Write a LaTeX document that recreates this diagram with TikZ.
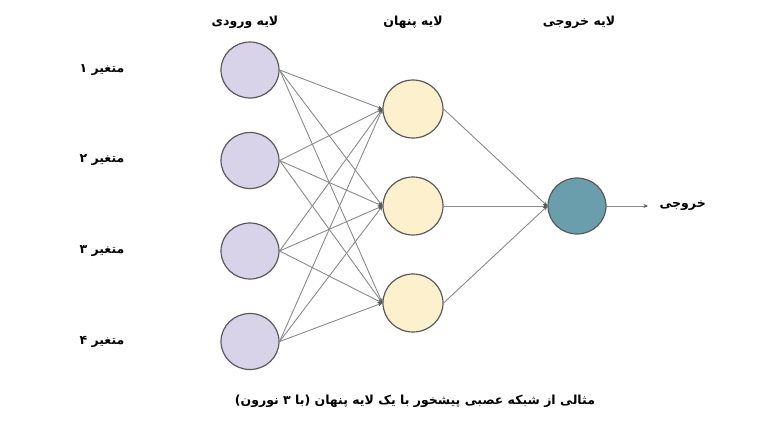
\documentclass[tikz,border=0pt]{standalone}
\usepackage{fontspec}
\TeXXeTstate=1
\newfontfamily\fafont[Script=Arabic]{DejaVu Sans}
\usetikzlibrary{arrows.meta,shapes.geometric}
\definecolor{inputfill}{HTML}{D9D3EA}
\definecolor{hiddenfill}{HTML}{FDF1CD}
\definecolor{outputfill}{HTML}{6A9EAD}
\definecolor{ringcol}{HTML}{5A5A5A}
\definecolor{linkcol}{HTML}{8A8A8A}
\tikzset{
    neuron/.style={draw=ringcol,line width=1.2pt,ellipse,inner sep=0pt},
    inputnode/.style={neuron,fill=inputfill,minimum width=58pt,minimum height=56pt},
    hiddennode/.style={neuron,fill=hiddenfill,minimum width=60pt,minimum height=58pt},
    outputnode/.style={neuron,fill=outputfill,minimum width=58pt,minimum height=56pt},
    link/.style={draw=linkcol,line width=0.9pt,-{Stealth[length=4.5pt,width=4pt,color=ringcol]}},
    label/.style={font=\fafont\bfseries\fontsize{12.5}{15}\selectfont}
}
\begin{document}
\begin{tikzpicture}[x=1pt,y=-1pt]
    \useasboundingbox (0,0) rectangle (768,432);
    % layer titles
    \node[label] (tin)  at (245,22) {\beginR لایه ورودی\endR};
    \node[label] (thid) at (413,22) {\beginR لایه پنهان\endR};
    \node[label] (tout) at (579,22) {\beginR لایه خروجی\endR};
    % input layer
    \foreach \line/\digit in {1/۱, 2/۲, 3/۳, 4/۴} {
        \node[inputnode] (in\line) at (250,{70+90.5*(\line-1)}) {};
        \node[label] (var\line) at (102,{70+90.5*(\line-1)}) {\beginR متغیر \digit\endR};
    }
    % hidden layer
    \foreach \count in {1,2,3} {
        \node[hiddennode] (hid\count) at (413,{109+97*(\count-1)}) {};
    }
    % output layer
    \node[outputnode] (out) at (577,206) {};
    \coordinate (end) at (648,206);
    \node[label,anchor=west] (res) at (656,206) {خروجی};
    % connections
    \foreach \line in {1,2,3,4} {
        \foreach \count in {1,2,3} {
            \draw[link] (in\line.east) -- (hid\count.west);
        }
    }
    \foreach \count in {1,2,3} {
        \draw[link] (hid\count.east) -- (out.west);
    }
    \draw[link] (out.east) -- (end);
    % caption
    \node[label] (cap) at (415,401) {\beginR مثالی از شبکه عصبی پیشخور با یک لایه پنهان (با ۳ نورون)\endR};
\end{tikzpicture}
\end{document}
